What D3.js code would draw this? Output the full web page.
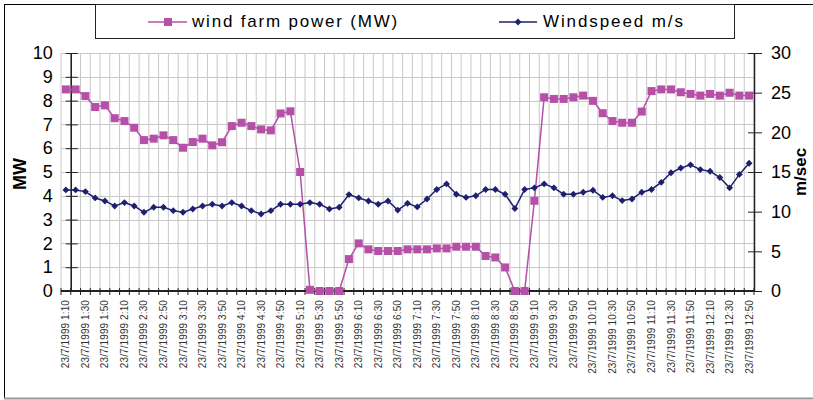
<!DOCTYPE html>
<html><head><meta charset="utf-8">
<script src="https://cdn.jsdelivr.net/npm/d3@7"></script>
<style>body{margin:0;background:#fff}svg{display:block;font-family:Arial,"Liberation Sans",sans-serif}</style>
</head><body>
<svg id="c" width="813" height="400"></svg>
<script>
const times = ["1:10","1:20","1:30","1:40","1:50","2:00","2:10","2:20","2:30","2:40","2:50","3:00","3:10","3:20","3:30","3:40","3:50","4:00","4:10","4:20","4:30","4:40","4:50","5:00","5:10","5:20","5:30","5:40","5:50","6:00","6:10","6:20","6:30","6:40","6:50","7:00","7:10","7:20","7:30","7:40","7:50","8:00","8:10","8:20","8:30","8:40","8:50","9:00","9:10","9:20","9:30","9:40","9:50","10:00","10:10","10:20","10:30","10:40","10:50","11:00","11:10","11:20","11:30","11:40","11:50","12:00","12:10","12:20","12:30","12:40","12:50"];
const categories = times.map(t => "23/7/1999 " + t);
const powerMW = [8.47,8.47,8.19,7.73,7.80,7.26,7.14,6.86,6.34,6.40,6.54,6.34,6.02,6.26,6.40,6.12,6.25,6.93,7.07,6.93,6.79,6.75,7.46,7.55,5.0,0.05,0,0,0,1.34,2.0,1.75,1.68,1.68,1.68,1.75,1.75,1.75,1.79,1.79,1.86,1.86,1.86,1.47,1.41,0.99,0,0,3.79,8.14,8.07,8.07,8.14,8.21,7.99,7.47,7.14,7.07,7.07,7.54,8.40,8.47,8.47,8.35,8.28,8.21,8.28,8.21,8.33,8.21,8.21];
const windspeed = [12.74,12.74,12.53,11.73,11.35,10.72,11.14,10.72,9.92,10.55,10.55,10.13,9.92,10.34,10.72,10.93,10.72,11.14,10.72,10.13,9.7,10.13,10.93,10.93,10.93,11.14,10.93,10.34,10.55,12.15,11.73,11.35,10.93,11.35,10.2,11.05,10.6,11.6,12.8,13.5,12.2,11.8,12.0,12.8,12.8,12.2,10.4,12.8,13.0,13.5,13.0,12.2,12.2,12.45,12.7,11.8,12.0,11.4,11.6,12.45,12.8,13.7,14.9,15.5,15.9,15.3,15.1,14.3,13.0,14.7,16.1];
const leftTicks = [0,1,2,3,4,5,6,7,8,9,10];
const rightTicks = [0,5,10,15,20,25,30];
const seriesNames = ["wind farm power (MW)", "Windspeed m/s"];

const svg = d3.select("#c");
const L = 61, R = 754, T = 53, B = 291;
const x = d3.scaleBand().domain(categories).range([L, R]).paddingInner(0).paddingOuter(0);
const bw = x.bandwidth();
const yL = d3.scaleLinear().domain([0, 10]).range([B, T]);
const yR = d3.scaleLinear().domain([0, 30]).range([B, T]);
const cx = d => x(d) + bw / 2;

// outer frame
svg.append("line").attr("x1",4.5).attr("x2",4.5).attr("y1",4).attr("y2",399).attr("stroke","#000");
svg.append("line").attr("x1",4).attr("x2",813).attr("y1",4.5).attr("y2",4.5).attr("stroke","#000");
svg.append("line").attr("x1",4).attr("x2",813).attr("y1",398.5).attr("y2",398.5).attr("stroke","#999").attr("stroke-width",2);

// gridlines
const g = svg.append("g");
leftTicks.forEach(v => g.append("line").attr("x1",L).attr("x2",R).attr("y1",Math.round(yL(v))+0.5).attr("y2",Math.round(yL(v))+0.5).attr("stroke","#c8c8c8"));
d3.range(categories.length + 1).forEach(k => {
  const xx = L + k * bw;
  g.append("line").attr("x1",xx).attr("x2",xx).attr("y1",T).attr("y2",B).attr("stroke","#c8c8c8");
});

// left axis (crosses between first and second category)
const axX = x(categories[1]);
const la = svg.append("g").attr("transform",`translate(${axX},0)`)
  .call(d3.axisLeft(yL).tickValues(leftTicks).tickSizeOuter(0).tickSizeInner(5).tickPadding(13));
la.select(".domain").attr("stroke","#222").attr("stroke-width",1.5);
la.selectAll(".tick line").attr("x1",-5).attr("x2",7).attr("stroke","#222");
la.selectAll("text").attr("font-size",18).attr("fill","#000").attr("font-family","Arial, 'Liberation Sans'");

// right axis
const ra = svg.append("g").attr("transform",`translate(${R},0)`)
  .call(d3.axisRight(yR).tickValues(rightTicks).tickSizeOuter(0).tickSizeInner(8).tickPadding(9));
ra.select(".domain").attr("stroke","#222").attr("stroke-width",1.5);
ra.selectAll(".tick line").attr("x1",-6).attr("x2",8).attr("stroke","#222");
ra.selectAll("text").attr("font-size",18).attr("fill","#000").attr("font-family","Arial, 'Liberation Sans'");

// bottom axis
const xa = svg.append("g").attr("transform",`translate(0,${B})`)
  .call(d3.axisBottom(x).tickValues(categories.filter((d,i)=>i%2===0)).tickSize(0).tickPadding(0));
xa.select(".domain").remove();
xa.selectAll("text").attr("font-size",10).attr("letter-spacing",0.1).attr("fill","#333").attr("text-anchor","end")
  .attr("transform","translate(0,9) rotate(-90)").attr("dy","0.35em").attr("x",0).attr("y",0)
  .attr("font-family","Arial, 'Liberation Sans'");
svg.append("line").attr("x1",L).attr("x2",R).attr("y1",B).attr("y2",B).attr("stroke","#222").attr("stroke-width",2);
d3.range(categories.length + 1).forEach(k => {
  const xx = L + k * bw;
  svg.append("line").attr("x1",xx).attr("x2",xx).attr("y1",B-3).attr("y2",B+4).attr("stroke","#222");
});

// axis titles
svg.append("text").attr("transform","translate(26,174) rotate(-90)").attr("text-anchor","middle")
  .attr("font-size",18).attr("font-weight","bold").text("MW");
svg.append("text").attr("transform","translate(806,172) rotate(-90)").attr("text-anchor","middle")
  .attr("font-size",17).attr("font-weight","bold").text("m/sec");

// series
const magenta = "#b64fa8", navy = "#1f1f70";
const lineP = d3.line().x((d,i)=>cx(categories[i])).y(d=>yL(d));
const lineW = d3.line().x((d,i)=>cx(categories[i])).y(d=>yR(d));
svg.append("path").attr("d",lineP(powerMW)).attr("fill","none").attr("stroke",magenta).attr("stroke-width",1.5);
svg.append("g").selectAll("rect").data(powerMW).join("rect")
  .attr("x",(d,i)=>cx(categories[i])-4).attr("y",d=>yL(d)-4).attr("width",8).attr("height",8).attr("fill",magenta);
svg.append("path").attr("d",lineW(windspeed)).attr("fill","none").attr("stroke",navy).attr("stroke-width",1.5);
const diamond = d3.symbol().type(d3.symbolDiamond2).size(30);
svg.append("g").selectAll("path").data(windspeed).join("path")
  .attr("d",diamond).attr("transform",(d,i)=>`translate(${cx(categories[i])},${yR(d)})`).attr("fill",navy);

// legend
svg.append("rect").attr("x",95.5).attr("y",4.5).attr("width",639).attr("height",34).attr("fill","#fff").attr("stroke","#222");
svg.append("line").attr("x1",148).attr("x2",187).attr("y1",22).attr("y2",22).attr("stroke",magenta).attr("stroke-width",1.5);
svg.append("rect").attr("x",164).attr("y",18).attr("width",8).attr("height",8).attr("fill",magenta);
svg.append("text").attr("x",192).attr("y",27).attr("font-size",17).attr("letter-spacing",1.8).text(seriesNames[0]);
svg.append("line").attr("x1",499).attr("x2",537).attr("y1",22).attr("y2",22).attr("stroke",navy).attr("stroke-width",1.5);
svg.append("path").attr("d",diamond).attr("transform","translate(518,22)").attr("fill",navy);
svg.append("text").attr("x",543).attr("y",27).attr("font-size",17).attr("letter-spacing",1.9).text(seriesNames[1]);
</script>
</body></html>
